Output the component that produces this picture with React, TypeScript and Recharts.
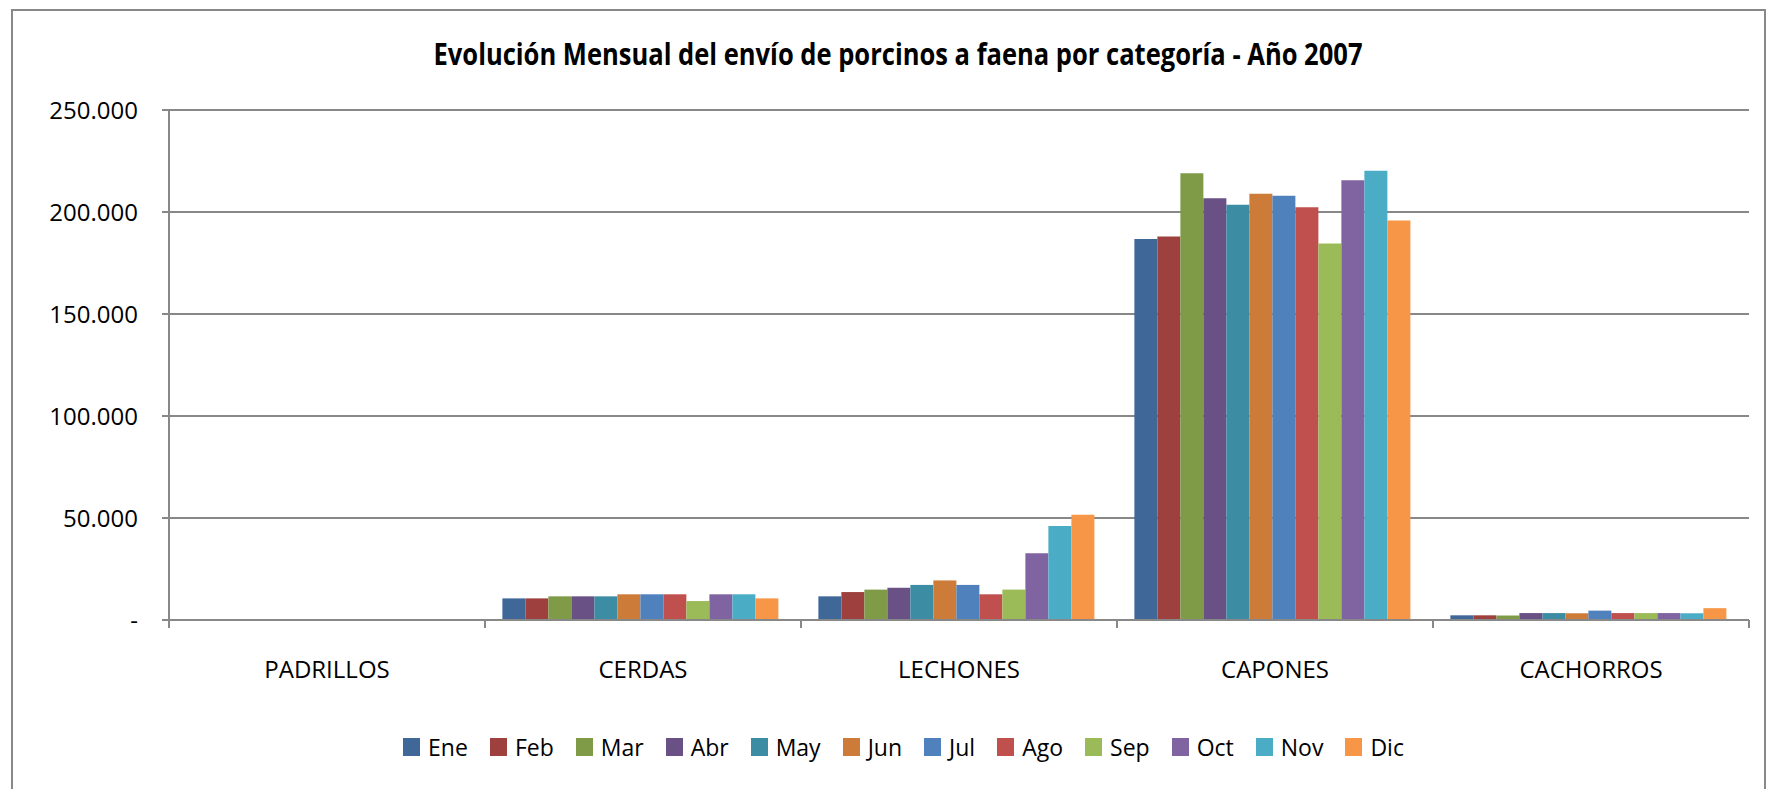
import { BarChart, Bar, XAxis, YAxis, CartesianGrid, Legend } from 'recharts';

const categories = ['PADRILLOS', 'CERDAS', 'LECHONES', 'CAPONES', 'CACHORROS'];
const months = ['Ene', 'Feb', 'Mar', 'Abr', 'May', 'Jun', 'Jul', 'Ago', 'Sep', 'Oct', 'Nov', 'Dic'];

// valores por categoría: PADRILLOS, CERDAS, LECHONES, CAPONES, CACHORROS
const ene = [300, 10600, 11600, 186800, 2300];
const feb = [300, 10600, 13700, 188000, 2300];
const mar = [300, 11600, 14900, 219000, 2200];
const abr = [300, 11600, 15800, 206800, 3400];
const may = [300, 11600, 17200, 203600, 3400];
const jun = [300, 12600, 19400, 209000, 3300];
const jul = [300, 12600, 17200, 208000, 4600];
const ago = [300, 12600, 12600, 202300, 3400];
const sep = [300, 9300, 14900, 184500, 3400];
const oct = [300, 12600, 32700, 215600, 3400];
const nov = [300, 12600, 46100, 220200, 3300];
const dic = [300, 10600, 51600, 195800, 5800];

const yTicks = [0, 50000, 100000, 150000, 200000, 250000];

const series = [ene, feb, mar, abr, may, jun, jul, ago, sep, oct, nov, dic];
const colors = ['#3F6899', '#9E413E', '#7F9B48', '#695185', '#3C8DA3', '#CC7B38',
  '#4F81BD', '#C0504D', '#9BBB59', '#8064A2', '#4BACC6', '#F79646'];

const data = categories.map((cat, i) => {
  const row: Record<string, string | number> = { cat };
  months.forEach((m, j) => { row[m] = series[j][i]; });
  return row;
});

const font = '"Open Sans", sans-serif';
const gray = '#888888';

const fmt = (v: number) => (v === 0 ? '-' : String(v).replace(/\B(?=(\d{3})+(?!\d))/g, '.'));

// etiqueta de categoría + marcas en los bordes de cada categoría (estilo Excel)
function CatTick(props: any) {
  const { x, y, payload, width, visibleTicksCount } = props;
  const band = width / visibleTicksCount;
  const top = y - 41;
  return (
    <g>
      <line x1={x - band / 2} x2={x - band / 2} y1={top} y2={top + 8} stroke={gray} strokeWidth={2} />
      <line x1={x + band / 2} x2={x + band / 2} y1={top} y2={top + 8} stroke={gray} strokeWidth={2} />
      <text x={x} y={y} dy="0.71em" textAnchor="middle" style={{ fontFamily: font, fontSize: 24, fill: '#000' }}>
        {payload.value}
      </text>
    </g>
  );
}

function LegendBox({ payload }: any) {
  const items = [...(payload || [])].sort((a: any, b: any) => months.indexOf(a.value) - months.indexOf(b.value));
  return (
    <div style={{ display: 'flex', justifyContent: 'center', alignItems: 'center', gap: 22, height: 30, fontFamily: font, fontSize: 23, color: '#000' }}>
      {items.map((p: any) => (
        <div key={p.value} style={{ display: 'flex', alignItems: 'center' }}>
          <span style={{ display: 'inline-block', width: 17, height: 18, background: p.color, marginRight: 8 }} />
          <span>{p.value}</span>
        </div>
      ))}
    </div>
  );
}

export default function App() {
  return (
    <div style={{ position: 'absolute', left: 0, top: 0, width: 1769, height: 789, background: '#fff', overflow: 'hidden' }}>
      <div style={{ position: 'absolute', left: 11, top: 9, width: 1755, height: 820, border: `2px solid ${gray}`, boxSizing: 'border-box' }} />
      <svg width={1769} height={90} style={{ position: 'absolute', left: 0, top: 0 }}>
        <text x={898} y={65} textAnchor="middle" textLength={929} lengthAdjust="spacingAndGlyphs"
          style={{ fontFamily: font, fontWeight: 700, fontSize: 30, fill: '#000' }}>
          Evolución Mensual del envío de porcinos a faena por categoría - Año 2007
        </text>
      </svg>
      <div style={{ position: 'absolute', left: 0, top: 0 }}>
        <BarChart width={1769} height={789} data={data} margin={{ top: 110, right: 20, left: 0, bottom: 27 }}
          barCategoryGap="5.5%" barGap={0}>
          <CartesianGrid vertical={false} stroke={gray} strokeWidth={2} />
          <XAxis dataKey="cat" height={112} interval={0}
            axisLine={{ stroke: gray, strokeWidth: 2 }} tickLine={false} tickSize={7} tickMargin={34}
            tick={<CatTick />} />
          <YAxis width={169} domain={[0, 250000]} ticks={yTicks} interval={0} tickFormatter={fmt}
            axisLine={{ stroke: gray, strokeWidth: 2 }} tickLine={{ stroke: gray, strokeWidth: 2 }}
            tickSize={7} tickMargin={24}
            tick={{ fontFamily: font, fontSize: 24, fill: '#000' }} />
          <Legend verticalAlign="bottom" content={<LegendBox />} wrapperStyle={{ left: 0, width: 1807 }} />
          {months.map((m, j) => (
            <Bar key={m} dataKey={m} name={m} fill={colors[j]} isAnimationActive={false} />
          ))}
        </BarChart>
      </div>
    </div>
  );
}
